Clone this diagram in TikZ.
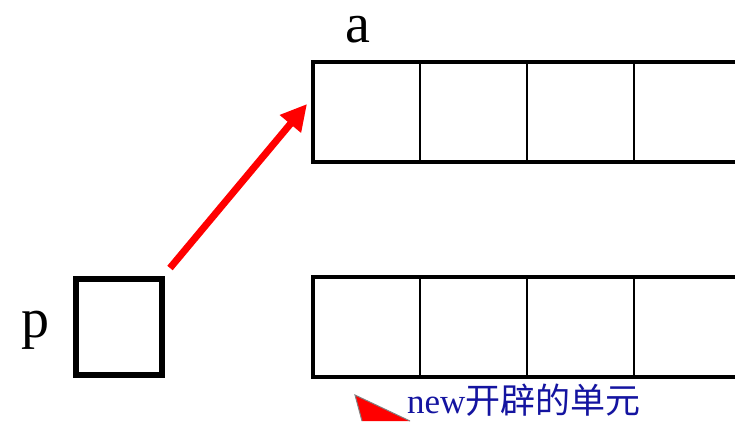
\documentclass[tikz,border=0pt]{standalone}
\usepackage{fontspec}
\setmainfont{Liberation Serif}
\newfontfamily\cjk{Noto Sans CJK SC}
\usetikzlibrary{arrows.meta}
\definecolor{labelblue}{RGB}{20,20,160}
\tikzset{
  thickbox/.style={draw=black, line width=4.5pt},
  divider/.style={draw=black, line width=1.8pt},
  redarrow/.style={draw=red, line width=7pt, -{Triangle[length=26pt,width=26pt]}},
  biglabel/.style={font=\fontsize{56}{56}\selectfont, inner sep=0pt, text height=28pt, text depth=0pt},
}
\begin{document}
\begin{tikzpicture}[x=1pt,y=-1pt]
\useasboundingbox (0,0) rectangle (735,421);
% top array
\draw[divider] (420,62) -- (420,162) (527,62) -- (527,162) (634,62) -- (634,162);
\draw[thickbox] (737,62) -- (313,62) -- (313,162) -- (737,162);
\coordinate (atarget) at (307,104);
% bottom array
\draw[divider] (420,277) -- (420,377) (527,277) -- (527,377) (634,277) -- (634,377);
\draw[thickbox] (737,277) -- (313,277) -- (313,377) -- (737,377);
% p box
\node[thickbox, line width=5.5pt, minimum width=86pt, minimum height=96pt, inner sep=0pt] (pbox) at (119,327) {};
\node[biglabel, anchor=base] (plabel) at (35,337) {p};
\node[biglabel, anchor=base] (alabel) at (358,42) {a};
\coordinate (pstart) at (170,268);
\draw[redarrow] (pstart) -- (atarget);
% callout
\fill[red, draw=gray, line width=1pt] (362,421) -- (355,395) -- (410,421);
\node[anchor=base west, inner sep=0pt, text=labelblue, text height=26pt, text depth=0pt, font=\fontsize{35}{35}\selectfont] (newlabel) at (407,413) {new{\cjk 开辟的单元}};
\end{tikzpicture}
\end{document}
